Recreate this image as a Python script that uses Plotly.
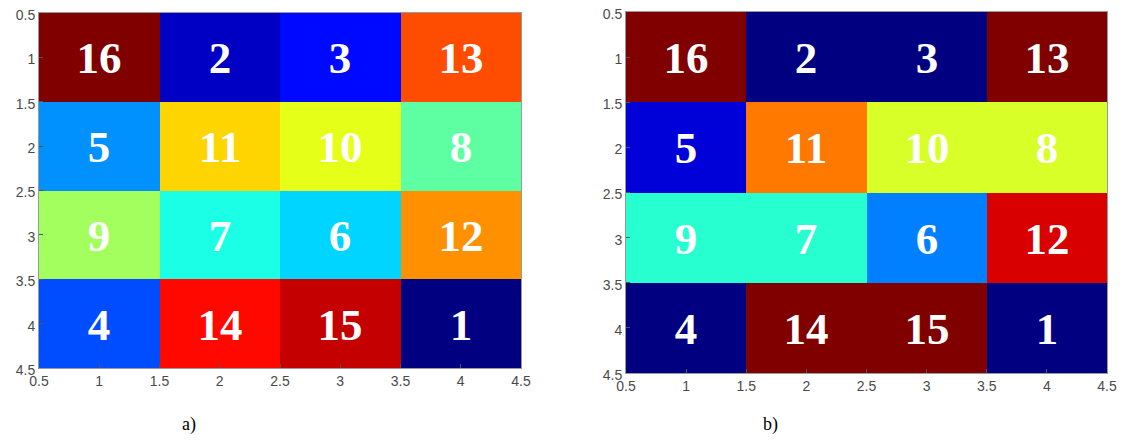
import plotly.graph_objects as go

# Data
x_pos = [1, 2, 3, 4]
y_pos = [1, 2, 3, 4]
magic = [
    [16, 2, 3, 13],
    [5, 11, 10, 8],
    [9, 7, 6, 12],
    [4, 14, 15, 1],
]
# cluster levels for panel b (1 = lowest colour ... 8 = highest)
clusters = [
    [8, 1, 1, 8],
    [2, 6, 5, 5],
    [4, 4, 3, 7],
    [1, 8, 8, 1],
]
cluster_colors = ["#000080", "#0000D8", "#0080FF", "#28FFD0",
                  "#D8FF28", "#FF7800", "#D80000", "#800000"]
tick_vals = [0.5, 1, 1.5, 2, 2.5, 3, 3.5, 4, 4.5]
tick_text = ["0.5", "1", "1.5", "2", "2.5", "3", "3.5", "4", "4.5"]
captions = ["a)", "b)"]

jet = [[0.0, "#000080"], [0.125, "#0000FF"], [0.375, "#00FFFF"],
       [0.625, "#FFFF00"], [0.875, "#FF0000"], [1.0, "#800000"]]

n = len(cluster_colors)
disc = []
for i, c in enumerate(cluster_colors):
    disc.append([i / n, c])
    disc.append([(i + 1) / n, c])

cell_font = dict(family="Liberation Serif, Times New Roman, serif", size=45, color="white")

fig = go.Figure()
fig.add_trace(go.Heatmap(
    x=x_pos, y=y_pos, z=magic, text=magic, texttemplate="<b>%{text}</b>",
    textfont=cell_font, colorscale=jet, zmin=1, zmax=16, showscale=False,
    xaxis="x", yaxis="y", hoverinfo="skip"))
fig.add_trace(go.Heatmap(
    x=x_pos, y=y_pos, z=clusters, text=magic, texttemplate="<b>%{text}</b>",
    textfont=cell_font, colorscale=disc, zmin=0.5, zmax=n + 0.5, showscale=False,
    xaxis="x2", yaxis="y2", hoverinfo="skip"))

W, H = 1130, 448
OFF = 8  # page body margin


def fx(px):
    return (px - OFF) / W


def fy(py):
    return 1 - (py - OFF) / H


tick_font = dict(family="Liberation Sans, Arial, sans-serif", size=14, color="#4a4a4a")
ax_common = dict(
    tickmode="array", tickvals=tick_vals, ticktext=tick_text,
    ticks="inside", ticklen=4, tickcolor="#555555",
    showline=True, linecolor="#9a9a9a", linewidth=1, mirror=True,
    showgrid=False, zeroline=False, automargin=False,
    ticklabeloverflow="allow", tickfont=tick_font,
)
ay_common = dict(ax_common, ticklabelshift=-2)
cap_font = dict(family="Liberation Serif, Times New Roman, serif", size=18, color="black")
fig.update_layout(
    width=W, height=H, margin=dict(l=0, r=0, t=0, b=0, autoexpand=False),
    paper_bgcolor="white", plot_bgcolor="white",
    xaxis=dict(domain=[fx(39), fx(521)], range=[0.5, 4.5], anchor="y", **ax_common),
    yaxis=dict(domain=[fy(368), fy(13)], range=[4.5, 0.5], anchor="x", **ay_common),
    xaxis2=dict(domain=[fx(626), fx(1107)], range=[0.5, 4.5], anchor="y2", **ax_common),
    yaxis2=dict(domain=[fy(373), fy(12)], range=[4.5, 0.5], anchor="x2", **ay_common),
    annotations=[
        dict(text=captions[0], x=fx(180), y=fy(437), xref="paper", yref="paper",
             showarrow=False, font=cap_font),
        dict(text=captions[1], x=fx(780), y=fy(437), xref="paper", yref="paper",
             showarrow=False, font=cap_font),
    ],
)

fig.write_html("out.html")
